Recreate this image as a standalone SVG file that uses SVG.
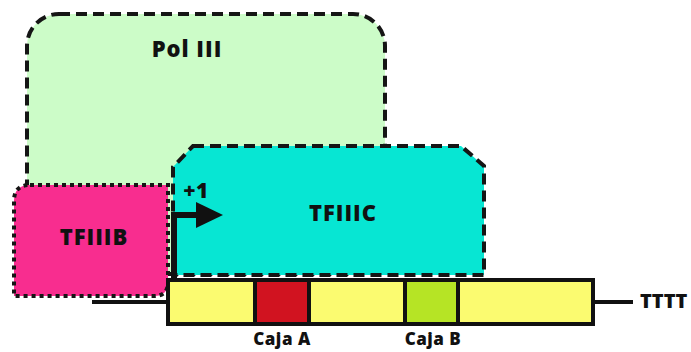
<svg xmlns="http://www.w3.org/2000/svg" width="691" height="352" viewBox="0 0 691 352">
<style>
.lbl{font-family:"Open Sans","Liberation Sans",sans-serif;font-weight:800;fill:#111;text-anchor:middle}
.dash{stroke:#151515;stroke-width:4;stroke-dasharray:11 6}
.dot{stroke:#151515;stroke-width:4;stroke-dasharray:4 4}
.dna{stroke:#111;stroke-width:4}
</style>
<rect width="691" height="352" fill="#fff"/>
<g id="pol3">
<rect x="27" y="14" width="358" height="260" rx="32" fill="#ccfcc8" class="dash"/>
<text class="lbl" x="187" y="57" font-size="22" letter-spacing="1">Pol III</text>
</g>
<g id="tfiiic">
<path d="M193,146 L461,146 L484,166 L484,275 L173,275 L173,167 Z" fill="#07e6d3" class="dash"/>
<text class="lbl" x="343" y="221" font-size="22" letter-spacing="1">TFIIIC</text>
</g>
<g id="tfiiib">
<path d="M30,185 L168,185 L168,282 Q168,296 154,296 L14,296 L14,201 Q14,185 30,185 Z" fill="#f82d8f" class="dot"/>
<text class="lbl" x="94" y="245" font-size="22" letter-spacing="1">TFIIIB</text>
</g>
<g id="connectors">
<line x1="92" y1="302" x2="168" y2="302" class="dna"/>
<line x1="593" y1="302" x2="633" y2="302" class="dna"/>
<path d="M174,283 L174,215 L200,215" fill="none" stroke="#111" stroke-width="6"/>
<polygon points="196,202 223,215 196,228" fill="#111"/>
<text class="lbl" x="196" y="198" font-size="21" letter-spacing="0.5">+1</text>
</g>
<g id="dna">
<rect x="168" y="280" width="425" height="44" fill="#fbfb70" class="dna"/>
<rect x="255" y="280" width="54" height="44" fill="#d11320" class="dna"/>
<rect x="405" y="280" width="53" height="44" fill="#b6e425" class="dna"/>
<text class="lbl" x="282" y="345" font-size="17" letter-spacing="0.5">Caja A</text>
<text class="lbl" x="433" y="345" font-size="17" letter-spacing="0.5">Caja B</text>
<text class="lbl" x="640" y="308" font-size="20" style="text-anchor:start" letter-spacing="0">TTTT</text>
</g>
</svg>
